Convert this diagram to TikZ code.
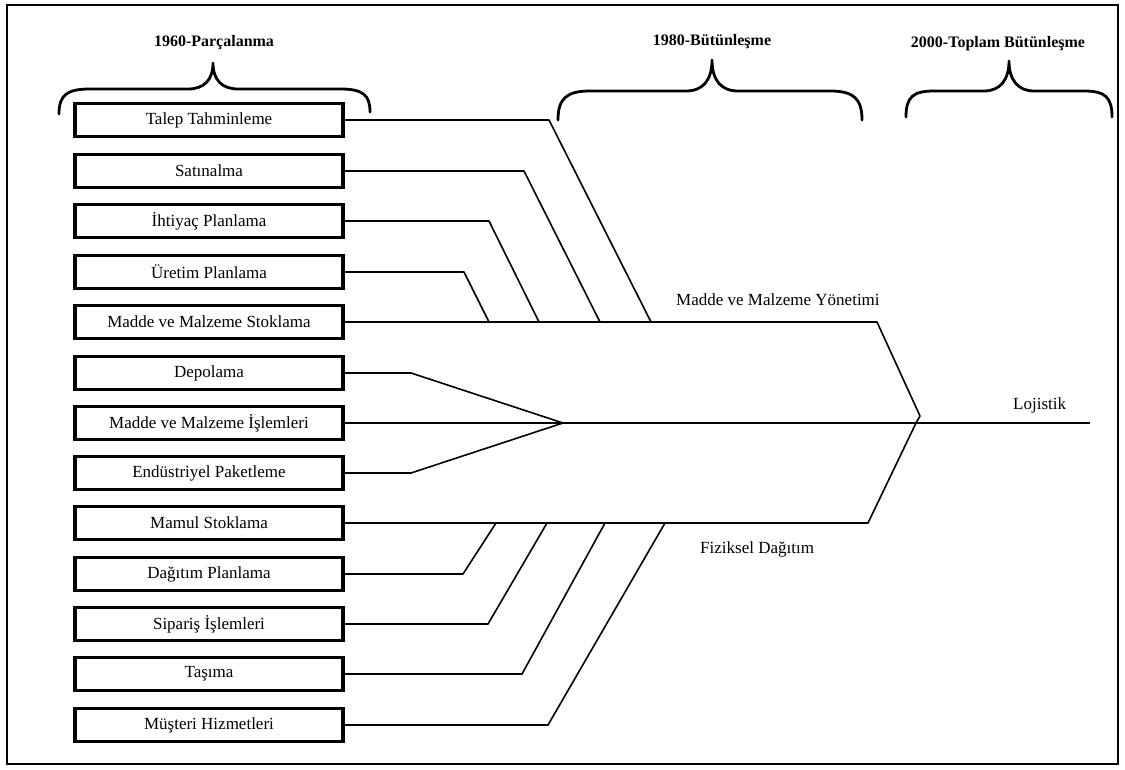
\documentclass[tikz,border=0pt]{standalone}
\usepackage{fontspec}
\setmainfont{Liberation Serif}
\begin{document}
\begin{tikzpicture}[x=1pt,y=-1pt,
  stagebox/.style={draw, line width=3.2pt, fill=white, minimum width=268pt,
    minimum height=33pt, inner sep=0pt, font=\fontsize{17}{20}\selectfont},
  flow/.style={line width=1.6pt, line join=round},
  bracestroke/.style={line width=2.8pt, line cap=round, line join=round},
  title/.style={font=\fontsize{16}{19}\selectfont\bfseries, inner sep=0pt},
  plain/.style={font=\fontsize{17}{20}\selectfont, inner sep=0pt}]

\useasboundingbox (0,0) rectangle (1125,770);
\draw[line width=2.6pt] (7,5) rectangle (1118,764);

% period titles
\node[title] (t1960) at (214,43) {1960-Parçalanma};
\node[title] (t1980) at (712,42) {1980-Bütünleşme};
\node[title] (t2000) at (998,44) {2000-Toplam Bütünleşme};

% curly braces under the titles
\draw[bracestroke] (59,114) .. controls (59,95) and (67,89) .. (90,89)
  -- (188,89) .. controls (204,89) and (213,80) .. (213,63)
  .. controls (213,80) and (222,89) .. (238,89)
  -- (340,89) .. controls (363,89) and (370,95) .. (370,112);
\draw[bracestroke] (558,120) .. controls (558,99) and (566,91) .. (590,91)
  -- (686,91) .. controls (703,91) and (712,80) .. (712,60)
  .. controls (712,80) and (721,91) .. (738,91)
  -- (830,91) .. controls (854,91) and (862,99) .. (862,120);
\draw[bracestroke] (906,117) .. controls (906,97) and (913,91) .. (934,91)
  -- (984,91) .. controls (1000,91) and (1009,80) .. (1009,61)
  .. controls (1009,80) and (1018,91) .. (1034,91)
  -- (1084,91) .. controls (1105,91) and (1112,97) .. (1112,117);

% activity boxes
\node[stagebox] (b1)  at (209,120) {Talep Tahminleme};
\node[stagebox] (b2)  at (209,171) {Satınalma};
\node[stagebox] (b3)  at (209,221) {İhtiyaç Planlama};
\node[stagebox] (b4)  at (209,272) {Üretim Planlama};
\node[stagebox] (b5)  at (209,322) {Madde ve Malzeme Stoklama};
\node[stagebox] (b6)  at (209,373) {Depolama};
\node[stagebox] (b7)  at (209,423) {Madde ve Malzeme İşlemleri};
\node[stagebox] (b8)  at (209,473) {Endüstriyel Paketleme};
\node[stagebox] (b9)  at (209,523) {Mamul Stoklama};
\node[stagebox] (b10) at (209,574) {Dağıtım Planlama};
\node[stagebox] (b11) at (209,624) {Sipariş İşlemleri};
\node[stagebox] (b12) at (209,674) {Taşıma};
\node[stagebox] (b13) at (209,725) {Müşteri Hizmetleri};

% bend and junction points
\coordinate (k1) at (549,120); \coordinate (j1) at (651,322);
\coordinate (k2) at (524,171); \coordinate (j2) at (600,322);
\coordinate (k3) at (489,221); \coordinate (j3) at (539,322);
\coordinate (k4) at (464,272); \coordinate (j4) at (489,322);
\coordinate (k6) at (411,373); \coordinate (k8) at (411,473);
\coordinate (fan) at (563,423);
\coordinate (k10) at (463,574); \coordinate (j10) at (496,523);
\coordinate (k11) at (488,624); \coordinate (j11) at (547,523);
\coordinate (k12) at (522,674); \coordinate (j12) at (605,523);
\coordinate (k13) at (548,725); \coordinate (j13) at (665,523);
\coordinate (mu) at (877,322); \coordinate (apex) at (920,416);
\coordinate (hub) at (916,423); \coordinate (ml) at (868,523);
\coordinate (lend) at (1090,423);

% material management branch
\draw[flow] (b1.east) -- (k1) -- (j1);
\draw[flow] (b2.east) -- (k2) -- (j2);
\draw[flow] (b3.east) -- (k3) -- (j3);
\draw[flow] (b4.east) -- (k4) -- (j4);
\draw[flow] (b5.east) -- (mu) -- (apex) -- (hub);

% handling branch
\draw[flow] (b6.east) -- (k6) -- (fan);
\draw[flow] (b8.east) -- (k8) -- (fan);
\draw[flow] (b7.east) -- (lend);

% physical distribution branch
\draw[flow] (b10.east) -- (k10) -- (j10);
\draw[flow] (b11.east) -- (k11) -- (j11);
\draw[flow] (b12.east) -- (k12) -- (j12);
\draw[flow] (b13.east) -- (k13) -- (j13);
\draw[flow] (b9.east) -- (ml) -- (hub);

% branch labels
\node[plain, anchor=west] (mmy) at (676,300) {Madde ve Malzeme Yönetimi};
\node[plain, anchor=west] (loj) at (1013,405) {Lojistik};
\node[plain, anchor=west] (fiz) at (700,549) {Fiziksel Dağıtım};
\end{tikzpicture}
\end{document}
